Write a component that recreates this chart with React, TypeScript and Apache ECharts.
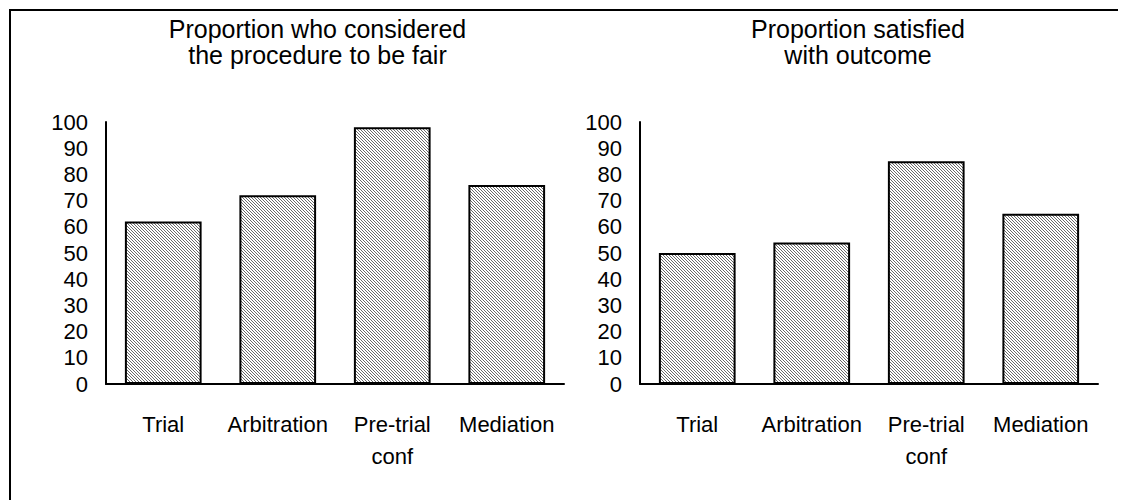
import React, { useEffect, useRef } from "react";
import * as echarts from "echarts";

const categories = ["Trial", "Arbitration", "Pre-trial\nconf", "Mediation"];
const fairValues = [62, 72, 98, 76];
const satisfiedValues = [50, 54, 85, 65];
const yTicks = { min: 0, max: 100, interval: 10 };
const titleLeft = "Proportion who considered\nthe procedure to be fair";
const titleRight = "Proportion satisfied\nwith outcome";

const FONT = "Arial, 'Liberation Sans', sans-serif";

function makePattern(): string {
  const c = document.createElement("canvas");
  c.width = 3;
  c.height = 3;
  const ctx = c.getContext("2d")!;
  ctx.fillStyle = "#ffffff";
  ctx.fillRect(0, 0, 3, 3);
  ctx.fillStyle = "#6a6a6a";
  for (let i = 0; i < 3; i++) ctx.fillRect(i, i, 1, 1);
  return c.toDataURL();
}

export default function App() {
  const ref = useRef<HTMLDivElement>(null);
  useEffect(() => {
    document.body.style.overflow = "hidden";
    const chart = echarts.init(ref.current!, null, { renderer: "svg" });
    const pattern = { image: makePattern(), repeat: "repeat" };
    const grids = [
      { left: 98, top: 114, width: 458, height: 262 },
      { left: 632, top: 114, width: 458, height: 262 },
    ];
    const xAxis = grids.map((_, i) => ({
      type: "category",
      gridIndex: i,
      data: categories,
      axisTick: { show: false },
      axisLine: { lineStyle: { color: "#000", width: 2 } },
      axisLabel: {
        interval: 0,
        color: "#000",
        fontSize: 22,
        lineHeight: 32,
        margin: 24,
        fontFamily: FONT,
      },
    }));
    const yAxis = grids.map((_, i) => ({
      type: "value",
      gridIndex: i,
      min: yTicks.min,
      max: yTicks.max,
      interval: yTicks.interval,
      splitLine: { show: false },
      axisTick: { show: false },
      axisLine: { show: true, lineStyle: { color: "#000", width: 2 } },
      axisLabel: {
        color: "#000",
        fontSize: 22,
        margin: 18,
        fontFamily: FONT,
        padding: [8, 0, 0, 0],
      },
    }));
    const barStyle = {
      color: pattern,
      borderColor: "#000",
      borderWidth: 2,
    };
    chart.setOption({
      animation: false,
      grid: grids,
      xAxis,
      yAxis,
      series: [
        {
          type: "bar",
          xAxisIndex: 0,
          yAxisIndex: 0,
          data: fairValues,
          barCategoryGap: "33%",
          itemStyle: barStyle,
        },
        {
          type: "bar",
          xAxisIndex: 1,
          yAxisIndex: 1,
          data: satisfiedValues,
          barCategoryGap: "33%",
          itemStyle: barStyle,
        },
      ],
      graphic: [
        {
          type: "line",
          shape: { x1: 1, y1: 2, x2: 1118, y2: 2 },
          style: { stroke: "#000", lineWidth: 2 },
          silent: true,
        },
        {
          type: "line",
          shape: { x1: 2, y1: 1, x2: 2, y2: 492 },
          style: { stroke: "#000", lineWidth: 2 },
          silent: true,
        },
        {
          type: "text",
          x: 309.5,
          y: 8,
          style: {
            text: titleLeft,
            fill: "#000",
            fontSize: 25,
            lineHeight: 26,
            fontFamily: FONT,
            textAlign: "center",
            textVerticalAlign: "top",
          },
        },
        {
          type: "text",
          x: 850,
          y: 8,
          style: {
            text: titleRight,
            fill: "#000",
            fontSize: 25,
            lineHeight: 26,
            fontFamily: FONT,
            textAlign: "center",
            textVerticalAlign: "top",
          },
        },
      ],
    });
    return () => chart.dispose();
  }, []);
  return <div ref={ref} style={{ width: 1118, height: 492 }} />;
}
